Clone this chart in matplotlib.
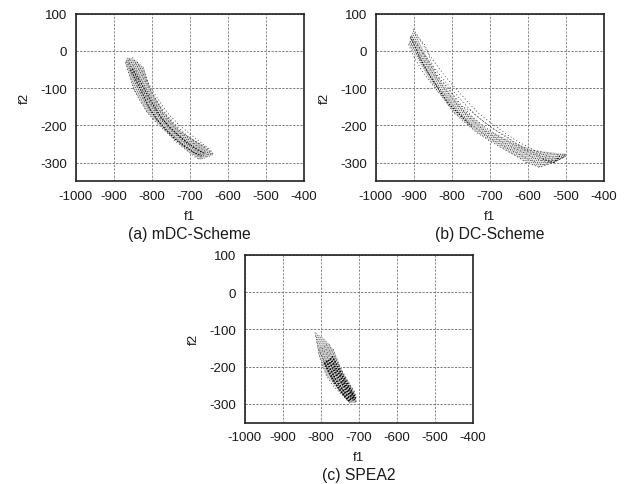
import matplotlib
matplotlib.use("Agg")
from matplotlib import pyplot as plt

plt.rcParams["font.family"] = ["Liberation Sans", "DejaVu Sans"]
plt.rcParams["axes.unicode_minus"] = False
plt.rcParams["lines.scale_dashes"] = False
plt.rcParams["hatch.linewidth"] = 0.5

xticks = [-1000, -900, -800, -700, -600, -500, -400]
yticks = [100, 0, -100, -200, -300]

# strands of the clouds
mdc_f1 = [
    [-869, -855, -847, -830, -812, -785, -760, -735, -707, -685, -672],
    [-866, -852, -838, -822, -804, -780, -755, -730, -702, -680, -664],
    [-862, -848, -832, -815, -798, -774, -750, -725, -697, -672, -655],
    [-860, -845, -828, -810, -792, -770, -745, -718, -690, -665, -648],
    [-858, -842, -824, -806, -788, -765, -740, -712, -684, -658, -642],
    [-850, -836, -818, -800, -782, -760, -735, -708, -678, -652, -637],
    [-838, -826, -812, -795, -776, -755, -728, -700, -672, -650, -640],
    [-821, -814, -803, -788, -768, -748, -725, -698, -672, -652, -637],
]
mdc_f2 = [
    [-31, -78, -103, -134, -165, -195, -219, -245, -268, -285, -293],
    [-28, -62, -95, -128, -158, -192, -216, -240, -262, -280, -288],
    [-25, -55, -90, -122, -152, -186, -212, -236, -258, -276, -284],
    [-32, -60, -96, -128, -156, -186, -212, -236, -256, -272, -280],
    [-22, -50, -84, -116, -146, -178, -206, -232, -252, -270, -278],
    [-17, -45, -78, -110, -140, -172, -200, -226, -248, -266, -276],
    [-30, -52, -80, -110, -140, -170, -198, -222, -244, -262, -272],
    [-44, -68, -103, -135, -165, -190, -215, -236, -250, -262, -280],
]
dc_f1 = [
    [-913, -898, -875, -848, -820, -795, -765, -734, -700, -664, -630, -603, -568, -533, -505],
    [-910, -893, -868, -842, -812, -786, -756, -725, -690, -655, -622, -592, -560, -528, -500],
    [-908, -888, -862, -835, -806, -778, -748, -716, -682, -646, -612, -582, -550, -522, -498],
    [-905, -884, -858, -830, -800, -772, -742, -710, -675, -640, -606, -575, -545, -518, -496],
    [-902, -880, -852, -825, -795, -766, -735, -702, -668, -634, -600, -570, -540, -515, -498],
    [-900, -876, -848, -820, -788, -758, -728, -696, -660, -628, -595, -565, -538, -512, -498],
    [-895, -870, -839, -808, -778, -750, -720, -690, -655, -629, -600, -577, -545, -520, -498],
]
dc_f2 = [
    [18, -18, -58, -94, -128, -165, -192, -219, -242, -263, -282, -300, -313, -300, -285],
    [25, -5, -50, -88, -125, -160, -190, -216, -240, -260, -278, -294, -306, -298, -284],
    [34, 0, -42, -80, -118, -152, -184, -212, -236, -256, -272, -288, -300, -295, -282],
    [40, 8, -36, -75, -112, -148, -180, -206, -230, -250, -268, -282, -296, -292, -280],
    [30, 2, -38, -72, -108, -142, -174, -200, -224, -246, -264, -280, -292, -288, -279],
    [59, 18, -26, -64, -102, -136, -168, -194, -220, -242, -260, -276, -286, -282, -277],
    [45, 16, -67, -100, -147, -160, -186, -210, -230, -250, -268, -268, -275, -278, -277],
]
spea_f1 = [
    [-807, -800, -792, -785, -770, -752, -741, -724],
    [-805, -796, -786, -778, -764, -748, -734, -720],
    [-800, -792, -782, -772, -760, -742, -728, -716],
    [-796, -786, -776, -766, -754, -738, -724, -714],
    [-790, -782, -770, -760, -748, -732, -720, -710],
    [-785, -776, -765, -756, -744, -728, -716, -708],
    [-778, -770, -760, -750, -738, -724, -712, -706],
    [-767, -762, -752, -741, -730, -718, -710, -706],
    [-815, -808, -800, -790, -776, -758, -740, -726],
]
spea_f2 = [
    [-162, -180, -205, -224, -248, -268, -278, -298],
    [-155, -172, -198, -218, -244, -264, -280, -296],
    [-148, -168, -192, -212, -238, -262, -280, -294],
    [-150, -165, -190, -212, -235, -260, -278, -292],
    [-145, -162, -188, -208, -232, -258, -276, -296],
    [-140, -160, -184, -205, -228, -254, -274, -294],
    [-140, -158, -180, -200, -224, -250, -272, -292],
    [-153, -168, -192, -216, -236, -256, -269, -296],
    [-108, -144, -165, -190, -220, -250, -275, -292],
]

# outline of each cloud
mdc_out_f1 = [-869, -847, -812, -760, -707, -672, -637, -663, -725, -768, -803, -821, -845, -865]
mdc_out_f2 = [-31, -103, -165, -219, -268, -293, -280, -255, -215, -165, -103, -44, -22, -17]
dc_out_f1 = [-913, -848, -795, -734, -664, -603, -568, -533, -498, -498, -577, -629, -708, -778, -839, -885, -900]
dc_out_f2 = [18, -94, -165, -219, -263, -300, -313, -300, -282, -277, -268, -250, -210, -147, -67, 25, 59]
spea_out_f1 = [-807, -785, -741, -724, -706, -710, -741, -767, -790, -815]
spea_out_f2 = [-162, -224, -278, -298, -296, -269, -216, -153, -125, -108]

# darker core of each cloud
mdc_core_f1 = [
    [-855, -838, -820, -805, -785, -762, -740, -715, -690, -668],
    [-850, -830, -812, -795, -775, -752, -728, -705, -680, -660],
]
mdc_core_f2 = [
    [-50, -85, -122, -155, -185, -212, -235, -255, -272, -282],
    [-48, -82, -115, -145, -178, -205, -228, -248, -265, -276],
]
dc_core_f1 = [
    [-908, -898, -880, -855, -828, -805, -778, -745],
    [-560, -545, -530, -515],
]
dc_core_f2 = [
    [38, 15, -25, -70, -112, -145, -172, -205],
    [-290, -296, -300, -282],
]
spea_core_f1 = [
    [-785, -772, -760, -745, -730, -718],
    [-780, -766, -752, -738, -724, -712],
    [-775, -760, -748, -734, -720, -710],
    [-790, -778, -765, -750, -735, -722],
    [-770, -756, -744, -730, -718, -708],
]
spea_core_f2 = [
    [-185, -212, -235, -258, -278, -292],
    [-182, -208, -232, -254, -276, -290],
    [-178, -205, -226, -250, -272, -288],
    [-190, -215, -240, -262, -282, -295],
    [-172, -198, -222, -246, -268, -284],
]

captions = ["(a) mDC-Scheme", "(b) DC-Scheme", "(c) SPEA2"]
all_f1 = [mdc_f1, dc_f1, spea_f1]
all_f2 = [mdc_f2, dc_f2, spea_f2]
out_f1 = [mdc_out_f1, dc_out_f1, spea_out_f1]
out_f2 = [mdc_out_f2, dc_out_f2, spea_out_f2]
core_f1 = [mdc_core_f1, dc_core_f1, spea_core_f1]
core_f2 = [mdc_core_f2, dc_core_f2, spea_core_f2]
core_width = [0.8, 0.7, 1.4]
fill_color = ["#dddddd", "#eaeaea", "#e4e4e4"]

W, H = 629, 485
boxes = [(75.5, 14.7), (375.5, 14.7), (244.7, 256)]
plt.figure(figsize=(W / 100, H / 100), dpi=100)

for i in range(3):
    left, top = boxes[i]
    ax = plt.axes([left / W, 1 - (top + 167.5) / H, 228 / W, 167.5 / H])
    ax.set_xlim([-1000, -400])
    ax.set_ylim([-350, 100])
    ax.set_xticks(xticks)
    ax.set_yticks(yticks)
    ax.grid(True, axis="y", color="#666666", linestyle=(0, (1.6, 1)), linewidth=0.6)
    ax.grid(True, axis="x", color="#8c8c8c", linestyle=(0, (1.6, 1)), linewidth=0.7)
    ax.set_axisbelow(True)
    ax.tick_params(axis="both", length=0, labelsize=9.6, pad=6, colors="#1a1a1a")
    for s in ax.spines.values():
        s.set_linewidth(1.2)
        s.set_color("#222222")
    ax.fill(out_f1[i], out_f2[i], facecolor=fill_color[i], edgecolor="#666666",
            hatch="........", linewidth=0)
    for f1, f2 in zip(all_f1[i], all_f2[i]):
        ax.plot(f1, f2, color="#333333", linewidth=0.5, linestyle=(0, (0.8, 1.6)))
    for f1, f2 in zip(core_f1[i], core_f2[i]):
        ax.plot(f1, f2, color="black", linewidth=core_width[i], linestyle=(0, (1, 1)))
    ax.set_xlabel("f1", fontsize=9.6, labelpad=6, color="#1a1a1a")
    ax.set_ylabel("f2", fontsize=9.6, labelpad=7, color="#1a1a1a")
    ax.text(0.5, -0.31, captions[i], transform=ax.transAxes, ha="center", va="center",
            fontsize=11.3, color="#1a1a1a")

plt.savefig("out.png", dpi=100)
